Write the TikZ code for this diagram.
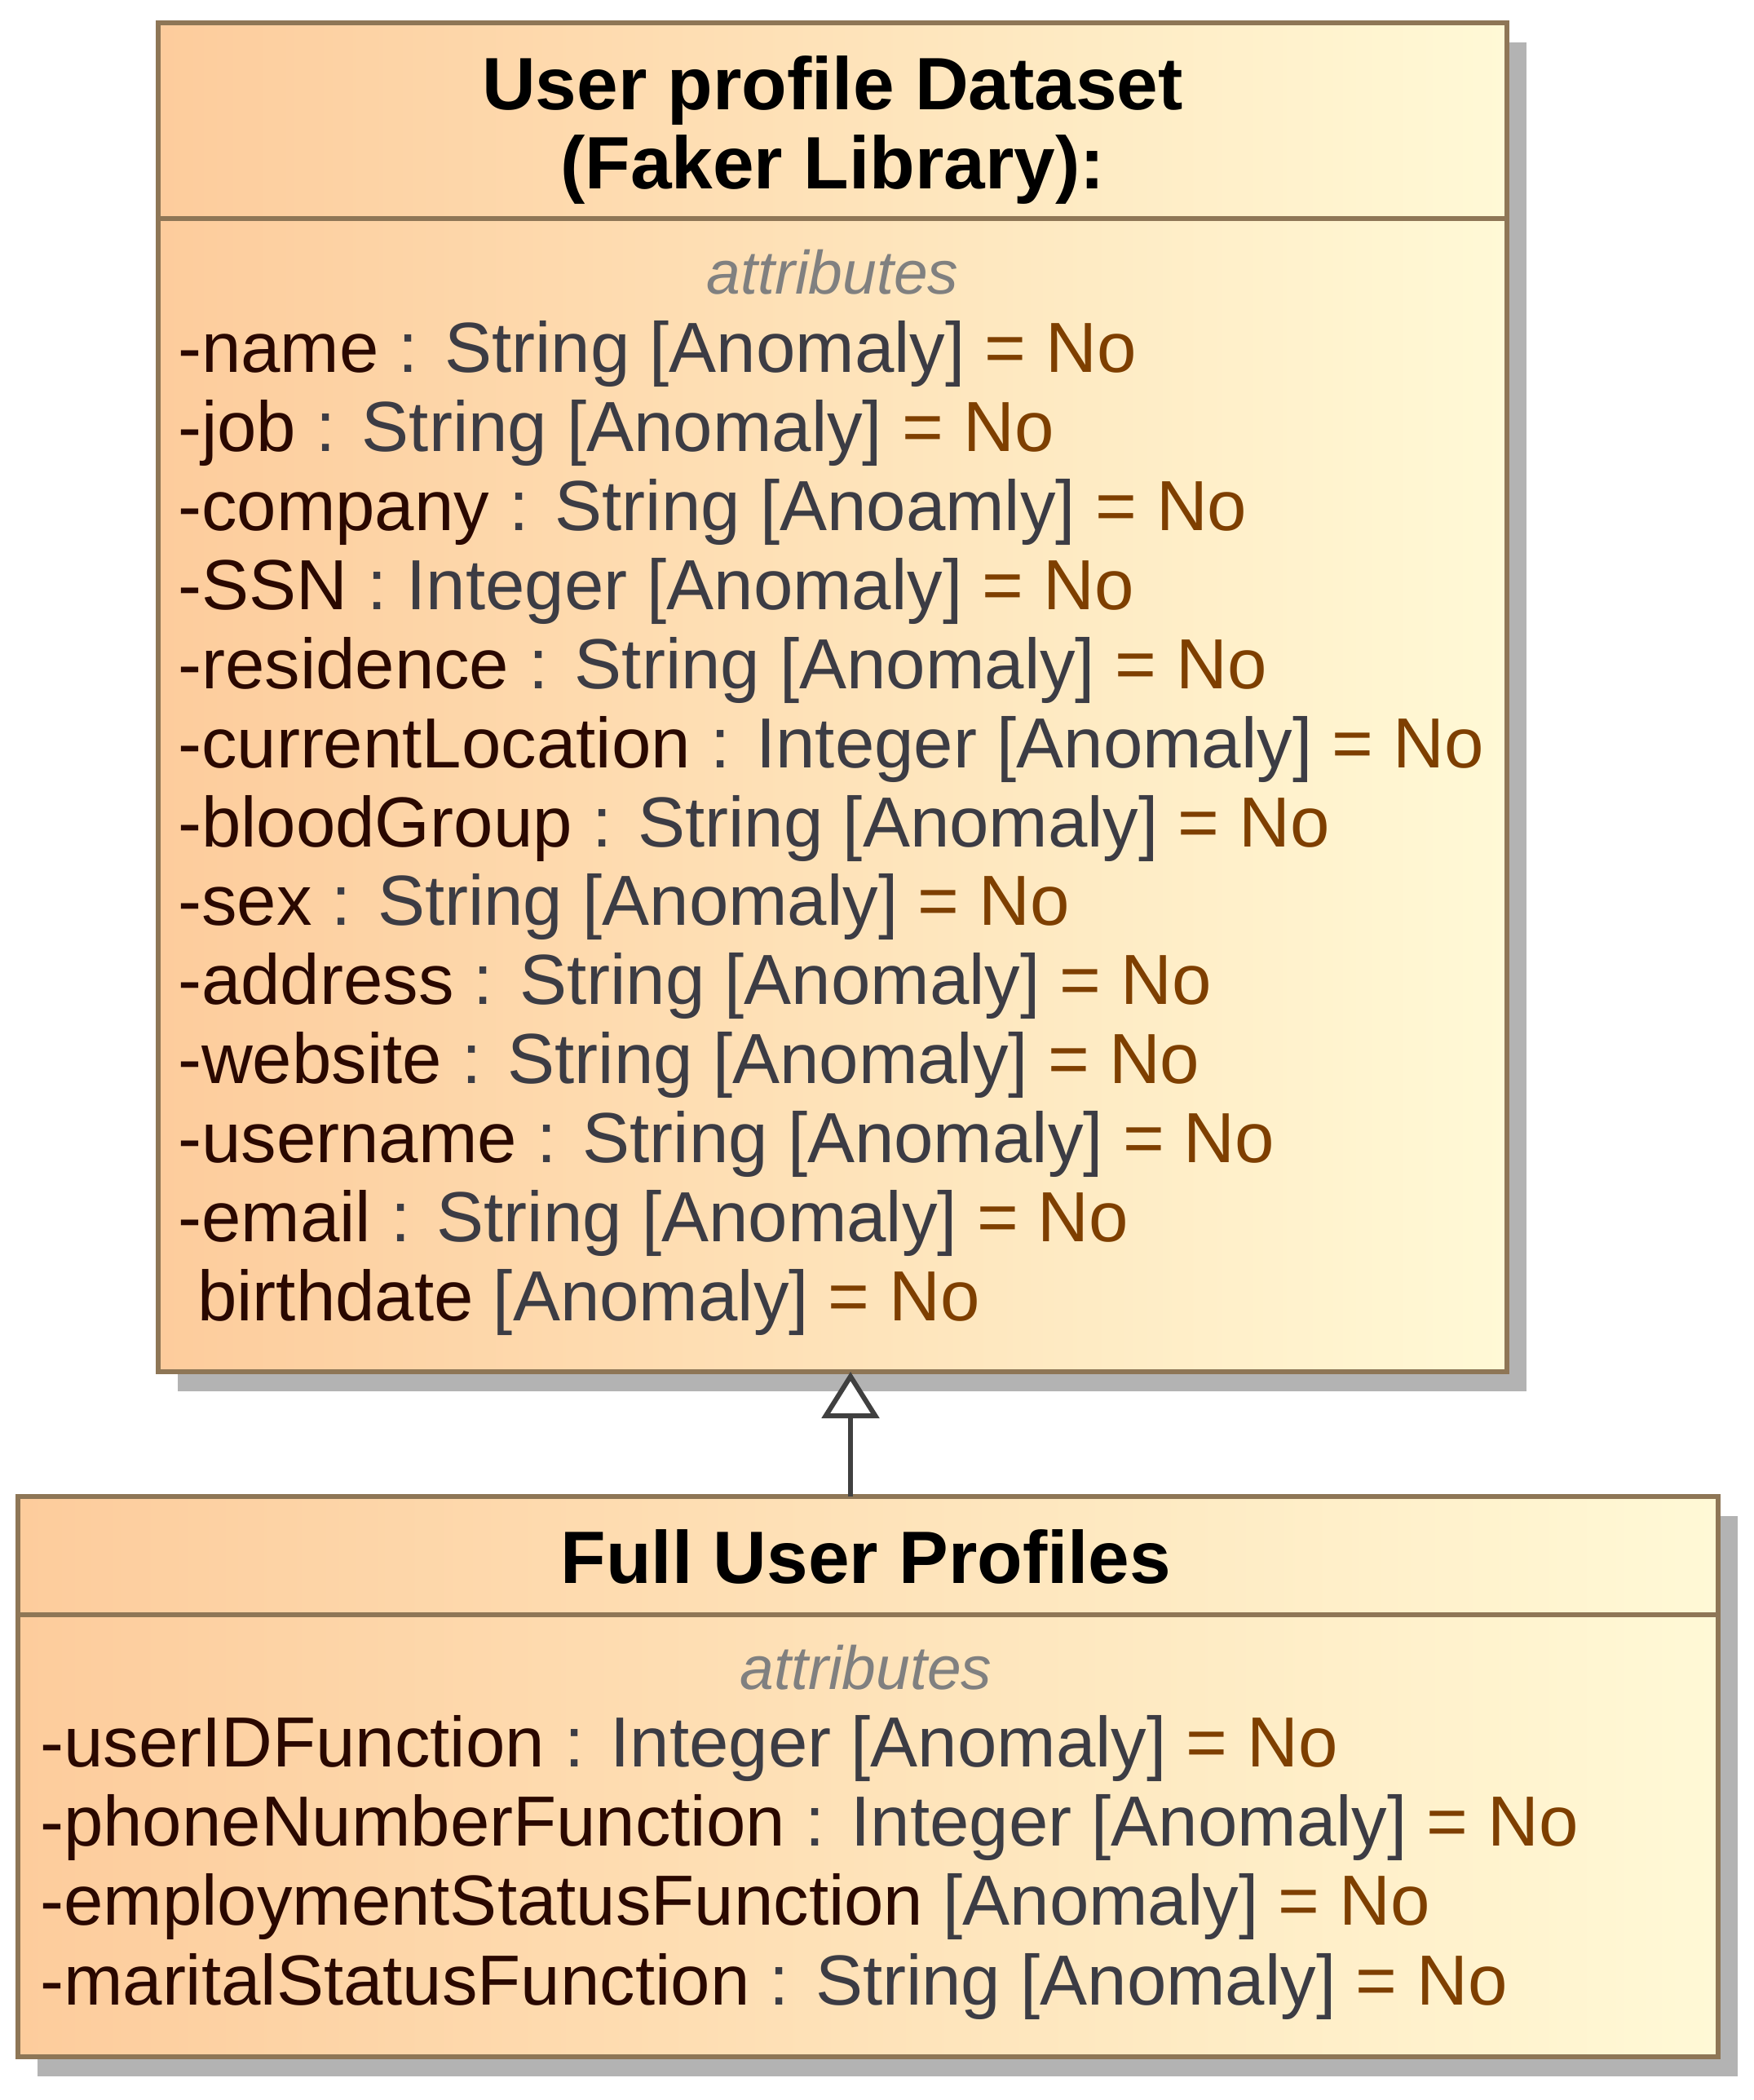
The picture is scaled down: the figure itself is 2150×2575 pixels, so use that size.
\documentclass[tikz,border=0pt]{standalone}
\usepackage{fontspec}
\setmainfont{Liberation Sans}
\usetikzlibrary{arrows.meta,backgrounds,calc}
\definecolor{bord}{HTML}{8E7656}
\definecolor{shad}{HTML}{B3B3B3}
\definecolor{peach}{HTML}{FDCC9C}
\definecolor{cream}{HTML}{FFF9D6}
\definecolor{nmcol}{HTML}{2A0800}
\definecolor{tycol}{HTML}{3C3C44}
\definecolor{vlcol}{HTML}{7E3F00}
\definecolor{attrcol}{HTML}{808080}
\definecolor{arrcol}{HTML}{404040}
\newcommand{\attrline}[3]{\textcolor{nmcol}{#1}\textcolor{tycol}{#2}\textcolor{vlcol}{#3}}
\tikzset{
  classbox/.style={draw=bord, line width=6pt, rectangle, inner sep=0pt, outer sep=0pt, left color=peach, right color=cream},
  sepline/.style={draw=bord, line width=6pt},
  shadowbox/.style={fill=shad},
  attr/.style={anchor=base west, inner sep=0pt, font=\fontsize{87}{97}\selectfont},
  ttl/.style={anchor=base, inner sep=0pt, font=\fontsize{91}{95}\selectfont\bfseries},
  hdr/.style={anchor=base, inner sep=0pt, text=attrcol, font=\fontsize{75}{80}\selectfont\itshape},
  gen/.style={draw=arrcol, line width=6pt, -{Triangle[open, length=57pt, width=70pt, fill=white]}},
}
\begin{document}
\begin{tikzpicture}[x=1pt,y=1pt]
\useasboundingbox (0,0) rectangle (2150,-2575);

% boxes
\node[classbox, anchor=north west, minimum width=1654pt, minimum height=1654pt] (top) at (194,-28) {};
\node[classbox, anchor=north west, minimum width=2085pt, minimum height=687pt] (bot) at (22,-1835) {};

\begin{scope}[on background layer]
  \fill[white] (0,0) rectangle (2150,-2575);
  \fill[shadowbox] ($(top.south west)+(24,-24)$) rectangle ($(top.north east)+(24,-24)$);
  \fill[shadowbox] ($(bot.south west)+(24,-24)$) rectangle ($(bot.north east)+(24,-24)$);
\end{scope}

% separators
\coordinate (s1) at (0,-268);
\coordinate (s2) at (0,-1980);
\draw[sepline] (top.west |- s1) -- (top.east |- s1);
\draw[sepline] (bot.west |- s2) -- (bot.east |- s2);

% top titles
\node[ttl] (t1) at (1021,-134) {User profile Dataset};
\node[ttl] (t2) at (1021,-231) {(Faker Library):};
\node[hdr] (h1) at (1021,-360) {attributes};

\node[attr] (a1)  at (218,-456.6)  {\attrline{-name}{\ : String [Anomaly]}{\ = No}};
\node[attr] (a2)  at (218,-553.5)  {\attrline{-job}{\ : String [Anomaly]}{\ = No}};
\node[attr] (a3)  at (218,-650.4)  {\attrline{-company}{\ : String [Anoamly]}{\ = No}};
\node[attr] (a4)  at (218,-747.3)  {\attrline{-SSN}{\ : Integer [Anomaly]}{\ = No}};
\node[attr] (a5)  at (218,-844.2)  {\attrline{-residence}{\ : String [Anomaly]}{\ = No}};
\node[attr] (a6)  at (218,-941.1)  {\attrline{-currentLocation}{\ : Integer [Anomaly]}{\ = No}};
\node[attr] (a7)  at (218,-1038.0) {\attrline{-bloodGroup}{\ : String [Anomaly]}{\ = No}};
\node[attr] (a8)  at (218,-1134.9) {\attrline{-sex}{\ : String [Anomaly]}{\ = No}};
\node[attr] (a9)  at (218,-1231.8) {\attrline{-address}{\ : String [Anomaly]}{\ = No}};
\node[attr] (a10) at (218,-1328.7) {\attrline{-website}{\ : String [Anomaly]}{\ = No}};
\node[attr] (a11) at (218,-1425.6) {\attrline{-username}{\ : String [Anomaly]}{\ = No}};
\node[attr] (a12) at (218,-1522.5) {\attrline{-email}{\ : String [Anomaly]}{\ = No}};
\node[attr] (a13) at (218,-1619.4) {\attrline{\hspace*{24pt}birthdate}{\ [Anomaly]}{\ = No}};

% bottom
\node[ttl] (t3) at (1062,-1941) {Full User Profiles};
\node[hdr] (h2) at (1062,-2071) {attributes};
\node[attr] (b1) at (49,-2166) {\attrline{-userIDFunction}{\ : Integer [Anomaly]}{\ = No}};
\node[attr] (b2) at (49,-2263) {\attrline{-phoneNumberFunction}{\ : Integer [Anomaly]}{\ = No}};
\node[attr] (b3) at (49,-2360) {\attrline{-employmentStatusFunction}{\ [Anomaly]}{\ = No}};
\node[attr] (b4) at (49,-2458) {\attrline{-maritalStatusFunction}{\ : String [Anomaly]}{\ = No}};

% generalization
\coordinate (ax) at (1043,0);
\draw[gen] (ax |- bot.north) -- (ax |- top.south);
\end{tikzpicture}
\end{document}
